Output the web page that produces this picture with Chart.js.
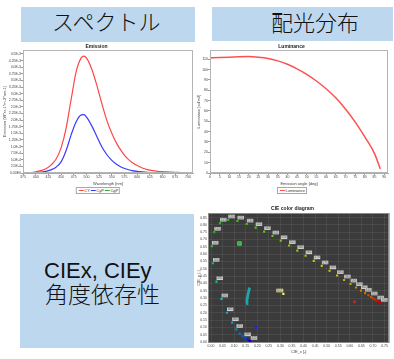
<!DOCTYPE html>
<html>
<head>
<meta charset="utf-8">
<script src="https://cdn.jsdelivr.net/npm/chart.js"></script>
<style>
    body {
        margin: 0;
        width: 394px;
        height: 359px;
        background: #fff;
        position: relative;
        overflow: hidden;
        font-family: 'Liberation Sans', Arial, sans-serif;
    }
    .box { position: absolute; background: #bdd7ee; }
    .jp {
        position: absolute;
        font-family: 'Noto Sans CJK JP', sans-serif;
        font-weight: 300;
        font-size: 22px;
        line-height: 22px;
        color: #111;
        white-space: nowrap;
    }
    .latin {
        position: absolute;
        font-family: 'Liberation Sans', Arial, sans-serif;
        font-size: 22px;
        line-height: 22px;
        color: #111;
        white-space: nowrap;
    }
    canvas { position: absolute; }
    .legend {
        position: absolute;
        transform: translateX(-50%);
        border: 1px solid #a8a8a8;
        background: #fff;
        display: flex;
        align-items: center;
        height: 5px;
        padding: 0 1px;
        font-size: 4px;
        line-height: 5px;
        color: #333;
        white-space: nowrap;
    }
</style>
</head>
<body>

<div class="box" style="left:21px; top:7px; width:174px; height:35px"></div>
<div class="jp" style="left:52px; top:9px">スペクトル</div>

<div class="box" style="left:212px; top:7px; width:181px; height:34px"></div>
<div class="jp" style="left:271px; top:10px">配光分布</div>

<div class="box" style="left:20px; top:214px; width:174px; height:134px"></div>
<div class="latin" style="left:44px; top:260px">CIEx, CIEy</div>
<div class="jp" style="left:45px; top:282px; font-size:23px; line-height:23px">角度依存性</div>

<canvas id="emissionChart" width="197" height="160" style="left:0; top:40px"></canvas>
<div class="legend" id="emissionLegend" style="left:98px; top:187px"></div>

<canvas id="luminanceChart" width="199" height="160" style="left:195px; top:40px"></canvas>
<div class="legend" id="luminanceLegend" style="left:292px; top:187px"></div>

<canvas id="cieChart" width="199" height="159" style="left:195px; top:200px"></canvas>

<script>
    // ---- Emission spectrum ----
    const emissionNm = [390, 400, 410, 420, 430, 440, 450, 460, 470, 480, 490, 495, 500, 510, 520, 530, 540, 550, 560, 570, 580, 590, 600, 610, 620, 630, 640, 650, 660, 670, 680, 690, 700];
    const emissionCY = [0, 0.04e-3, 0.09e-3, 0.16e-3, 0.3e-3, 0.52e-3, 0.95e-3, 1.7e-3, 2.8e-3, 3.85e-3, 4.36e-3, 4.42e-3, 4.35e-3, 3.95e-3, 3.35e-3, 2.65e-3, 2.0e-3, 1.5e-3, 1.1e-3, 0.8e-3, 0.56e-3, 0.4e-3, 0.28e-3, 0.19e-3, 0.13e-3, 0.09e-3, 0.065e-3, 0.05e-3, 0.04e-3, 0.03e-3, 0.02e-3, 0.015e-3, 0.01e-3];
    const emissionCyP = [0, 0.01e-3, 0.03e-3, 0.06e-3, 0.12e-3, 0.22e-3, 0.42e-3, 0.85e-3, 1.45e-3, 1.95e-3, 2.2e-3, 2.21e-3, 2.12e-3, 1.8e-3, 1.4e-3, 1.0e-3, 0.7e-3, 0.48e-3, 0.32e-3, 0.21e-3, 0.14e-3, 0.09e-3, 0.06e-3, 0.04e-3, 0.025e-3, 0.015e-3, 0.01e-3, 0.007e-3, 0.005e-3, 0.003e-3, 0.002e-3, 0.001e-3, 0];
    const emissionXTicks = [375, 400, 425, 450, 475, 500, 525, 550, 575, 600, 625, 650, 675, 700];
    const emissionYTicks = [0, 2.5e-4, 5e-4, 7.5e-4, 1e-3, 1.25e-3, 1.5e-3, 1.75e-3, 2e-3, 2.25e-3, 2.5e-3, 2.75e-3, 3e-3, 3.25e-3, 3.5e-3, 3.75e-3, 4e-3, 4.25e-3, 4.5e-3];
    const emissionYLabels = ['0.00E0', '2.5E-4', '5.0E-4', '7.5E-4', '1.0E-3', '1.25E-3', '1.5E-3', '1.75E-3', '2.0E-3', '2.25E-3', '2.5E-3', '2.75E-3', '3.0E-3', '3.25E-3', '3.5E-3', '3.75E-3', '4.0E-3', '4.25E-3', '4.5E-3'];

    // ---- Luminance vs angle ----
    const lumAngle = [0, 5, 10, 15, 20, 25, 30, 35, 40, 45, 50, 55, 60, 65, 70, 75, 80, 85, 88];
    const lumValue = [111.5, 111.7, 112, 112.4, 112.6, 112, 110.8, 108.5, 105.2, 100.8, 95.5, 89, 81.5, 72.8, 62, 49.5, 35, 19, 4];
    const lumXTicks = [0, 5, 10, 15, 20, 25, 30, 35, 40, 45, 50, 55, 60, 65, 70, 75, 80, 85, 90];
    const lumYTicks = [0, 10, 20, 30, 40, 50, 60, 70, 80, 90, 100, 110];

    // ---- CIE diagram ----
    const locusNm = [380, 400, 420, 430, 440, 450, 455, 460, 465, 470, 475, 480, 485, 490, 495, 500, 505, 510, 515, 520, 525, 530, 535, 540, 545, 550, 555, 560, 565, 570, 575, 580, 585, 590, 595, 600, 605, 610, 615, 620, 625, 630, 635, 640, 645, 650, 660, 670, 680, 700];
    const locusX = [0.1741, 0.1733, 0.1714, 0.1689, 0.1644, 0.1566, 0.1510, 0.1440, 0.1355, 0.1241, 0.1096, 0.0913, 0.0687, 0.0454, 0.0235, 0.0082, 0.0039, 0.0139, 0.0389, 0.0743, 0.1142, 0.1547, 0.1929, 0.2296, 0.2658, 0.3016, 0.3373, 0.3731, 0.4087, 0.4441, 0.4788, 0.5125, 0.5448, 0.5752, 0.6029, 0.6270, 0.6482, 0.6658, 0.6801, 0.6915, 0.7006, 0.7079, 0.7140, 0.7190, 0.7230, 0.7260, 0.7300, 0.7320, 0.7334, 0.7347];
    const locusY = [0.0050, 0.0048, 0.0051, 0.0069, 0.0109, 0.0177, 0.0227, 0.0297, 0.0399, 0.0578, 0.0868, 0.1327, 0.2007, 0.2950, 0.4127, 0.5384, 0.6548, 0.7502, 0.8120, 0.8338, 0.8262, 0.8059, 0.7816, 0.7543, 0.7243, 0.6923, 0.6589, 0.6245, 0.5896, 0.5547, 0.5202, 0.4866, 0.4544, 0.4242, 0.3965, 0.3725, 0.3514, 0.3340, 0.3197, 0.3083, 0.2993, 0.2920, 0.2859, 0.2809, 0.2770, 0.2740, 0.2700, 0.2680, 0.2666, 0.2653];
    const locusLabelNm = [420, 460, 475, 480, 485, 490, 495, 500, 505, 510, 515, 520, 525, 530, 535, 540, 545, 550, 555, 560, 565, 570, 575, 580, 585, 590, 595, 600, 605, 610, 620, 640, 700];
    const angleCieX = [0.152, 0.1555, 0.159, 0.1625, 0.1665];
    const angleCieY = [0.263, 0.290, 0.318, 0.345, 0.372];
    const greenPoint = [0.123, 0.673];
    const bluePoint = [0.195, 0.099];
    const redPoint = [0.620, 0.2745];
    const whitePoint = [0.3127, 0.329];
    const cieXTicks = [0, 0.05, 0.1, 0.15, 0.2, 0.25, 0.3, 0.35, 0.4, 0.45, 0.5, 0.55, 0.6, 0.65, 0.7, 0.75];
    const cieYTicks = [0, 0.05, 0.1, 0.15, 0.2, 0.25, 0.3, 0.35, 0.4, 0.45, 0.5, 0.55, 0.6, 0.65, 0.7, 0.75, 0.8, 0.85];


    Chart.defaults.font.family = "'Liberation Sans', Arial, sans-serif";
    Chart.defaults.color = '#444';

    const fixedTicks = values => axis => { axis.ticks = values.map(v => ({value: v})); };

    // wavelength -> marker colour (styling only)
    const nmColor = nm => {
        let r = 0, g = 0, b = 0;
        if (nm < 440) { r = (440 - nm) / 60; b = 1; }
        else if (nm < 490) { g = (nm - 440) / 50; b = 1; }
        else if (nm < 510) { g = 1; b = (510 - nm) / 20; }
        else if (nm < 580) { r = (nm - 510) / 70; g = 1; }
        else if (nm < 645) { r = 1; g = (645 - nm) / 65; }
        else { r = 1; }
        const k = 0.8;
        return `rgb(${Math.round(r * 255 * k)},${Math.round(g * 255 * k)},${Math.round(b * 255 * k)})`;
    };

    const htmlLegendPlugin = {
        id: 'htmlLegend',
        afterUpdate(chart, args, options) {
            const box = document.getElementById(options.containerID);
            while (box.firstChild) {
                box.firstChild.remove();
            }
            const items = chart.options.plugins.legend.labels.generateLabels(chart);
            items.forEach(item => {
                const line = document.createElement('span');
                line.style.display = 'inline-block';
                line.style.width = '5px';
                line.style.height = '1px';
                line.style.background = item.strokeStyle;
                line.style.marginLeft = '1px';

                const text = document.createElement('span');
                text.style.marginLeft = '0.5px';
                text.appendChild(document.createTextNode(item.text));

                box.appendChild(line);
                box.appendChild(text);
            });
        }
    };

    const framePlugin = {
        id: 'frame',
        beforeDraw(chart, args, opts) {
            if (!opts.fill) return;
            const a = chart.chartArea;
            chart.ctx.save();
            chart.ctx.fillStyle = opts.fill;
            chart.ctx.fillRect(a.left, a.top, a.width, a.height);
            chart.ctx.restore();
        },
        afterDraw(chart, args, opts) {
            const a = chart.chartArea;
            const ctx = chart.ctx;
            ctx.save();
            ctx.strokeStyle = opts.stroke || '#aaa';
            ctx.lineWidth = 1;
            ctx.strokeRect(Math.round(a.left) + 0.5, Math.round(a.top) + 0.5, Math.round(a.width) - 1, Math.round(a.height) - 1);
            ctx.restore();
        }
    };

    const pointLabelPlugin = {
        id: 'pointLabels',
        afterDatasetsDraw(chart) {
            const ctx = chart.ctx;
            ctx.save();
            ctx.font = "3px 'Liberation Sans', Arial, sans-serif";
            ctx.textAlign = 'center';
            ctx.textBaseline = 'middle';
            chart.data.datasets.forEach((ds, di) => {
                if (!ds.pointLabels) return;
                const meta = chart.getDatasetMeta(di);
                meta.data.forEach((el, i) => {
                    const text = ds.pointLabels[i];
                    if (!text) return;
                    const dx = ds.labelDx !== undefined ? ds.labelDx : 3.3;
                    const cx = el.x + dx;
                    const cy = el.y - 3.4;
                    const w = ctx.measureText(text).width + 1.4;
                    ctx.fillStyle = ds.labelBg || '#cfcfcf';
                    ctx.fillRect(cx - w / 2, cy - 1.8, w, 3.6);
                    ctx.fillStyle = '#555';
                    ctx.fillText(text, cx, cy + 0.2);
                });
            });
            ctx.restore();
        }
    };

    const tickGrid = { drawOnChartArea: false, tickLength: 2, color: '#999' };

    // Emission
    new Chart(document.getElementById('emissionChart'), {
        type: 'line',
        data: {
            datasets: [
                { label: 'CY', data: emissionNm.map((x, i) => ({x: x, y: emissionCY[i]})), borderColor: '#ff4646', borderWidth: 1.2, pointRadius: 0, cubicInterpolationMode: 'monotone' },
                { label: 'CyP', data: emissionNm.map((x, i) => ({x: x, y: emissionCyP[i]})), borderColor: '#3a3aff', borderWidth: 1.2, pointRadius: 0, cubicInterpolationMode: 'monotone' },
                { label: 'CgP', data: [], borderColor: '#33aa33', borderWidth: 1.2, pointRadius: 0 }
            ]
        },
        options: {
            responsive: false,
            animation: false,
            events: [],
            layout: { padding: { top: 0, right: 4, bottom: 11, left: 0 } },
            scales: {
                x: {
                    type: 'linear', min: 375, max: 710,
                    afterBuildTicks: fixedTicks(emissionXTicks),
                    afterFit: s => { s.height = 16; s.paddingLeft = 0; s.paddingRight = 0; },
                    grid: tickGrid, border: { color: '#aaa' },
                    ticks: { font: { size: 3.5 }, padding: 0, maxRotation: 0, autoSkip: false },
                    title: { display: true, text: 'Wavelength [nm]', font: { size: 4 }, padding: { top: 0, bottom: 3 } }
                },
                y: {
                    type: 'linear', min: 0, max: 4.65e-3,
                    afterBuildTicks: fixedTicks(emissionYTicks),
                    afterFit: s => { s.width = 23; s.paddingTop = 0; s.paddingBottom = 0; },
                    grid: tickGrid, border: { color: '#aaa' },
                    ticks: { font: { size: 3.5 }, padding: 0, autoSkip: false, callback: (v, i) => emissionYLabels[i] },
                    title: { display: true, text: 'Emission [W*sr-1*m-2*nm-1]', font: { size: 4 }, padding: { top: 2.6, bottom: 0 } }
                }
            },
            plugins: {
                title: { display: true, text: 'Emission', color: '#222', font: { size: 5, weight: 'bold' }, padding: { top: 4, bottom: 0 } },
                legend: { display: false },
                tooltip: { enabled: false },
                htmlLegend: { containerID: 'emissionLegend' },
                frame: { stroke: '#b4b4b4' }
            }
        },
        plugins: [htmlLegendPlugin, framePlugin]
    });

    // Luminance
    new Chart(document.getElementById('luminanceChart'), {
        type: 'line',
        data: {
            datasets: [
                { label: 'Luminance', data: lumAngle.map((x, i) => ({x: x, y: lumValue[i]})), borderColor: '#ff5050', borderWidth: 1.5, pointRadius: 0, cubicInterpolationMode: 'monotone' }
            ]
        },
        options: {
            responsive: false,
            animation: false,
            events: [],
            layout: { padding: { top: 0, right: 6, bottom: 11, left: 0 } },
            scales: {
                x: {
                    type: 'linear', min: 0, max: 92,
                    afterBuildTicks: fixedTicks(lumXTicks),
                    afterFit: s => { s.height = 16; s.paddingLeft = 0; s.paddingRight = 0; },
                    grid: tickGrid, border: { color: '#aaa' },
                    ticks: { font: { size: 3.5 }, padding: 0, maxRotation: 0, autoSkip: false },
                    title: { display: true, text: 'Emission angle [deg]', font: { size: 4 }, padding: { top: 0, bottom: 3 } }
                },
                y: {
                    type: 'linear', min: 0, max: 119,
                    afterBuildTicks: fixedTicks(lumYTicks),
                    afterFit: s => { s.width = 15; s.paddingTop = 0; s.paddingBottom = 0; },
                    grid: tickGrid, border: { color: '#aaa' },
                    ticks: { font: { size: 3.5 }, padding: 0, autoSkip: false },
                    title: { display: true, text: 'Luminance [cd/m2]', font: { size: 4 }, padding: { top: 1.6, bottom: 0 } }
                }
            },
            plugins: {
                title: { display: true, text: 'Luminance', color: '#222', font: { size: 5, weight: 'bold' }, padding: { top: 4, bottom: 0 } },
                legend: { display: false },
                tooltip: { enabled: false },
                htmlLegend: { containerID: 'luminanceLegend' },
                frame: { stroke: '#b4b4b4' }
            }
        },
        plugins: [htmlLegendPlugin, framePlugin]
    });

    // CIE color diagram
    const single = (p, color, r, border) => ({
        data: [{x: p[0], y: p[1]}], pointStyle: 'rect', pointRadius: r,
        backgroundColor: color, borderColor: border || color, borderWidth: border ? 0.6 : 0
    });

    new Chart(document.getElementById('cieChart'), {
        type: 'scatter',
        data: {
            datasets: [
                {
                    data: locusNm.map((nm, i) => ({x: locusX[i], y: locusY[i]})),
                    pointStyle: 'rect', pointRadius: 1.5, borderWidth: 0,
                    backgroundColor: locusNm.map(nmColor),
                    pointLabels: locusNm.map(nm => locusLabelNm.includes(nm) ? String(nm) : '')
                },
                {
                    data: angleCieX.map((x, i) => ({x: x, y: angleCieY[i]})),
                    showLine: true, borderColor: '#1fa6a6', borderWidth: 2.8, pointRadius: 0
                },
                single(greenPoint, '#2fb52f', 2.6, '#86e086'),
                single(bluePoint, '#2828cc', 2.2),
                single(redPoint, '#cc2222', 2),
                Object.assign(single(whitePoint, '#f2f266', 1.6), { pointLabels: ['D65'], labelBg: '#dede9e', labelDx: -3.6 })
            ]
        },
        options: {
            responsive: false,
            animation: false,
            events: [],
            layout: { padding: { top: 0, right: 4, bottom: 3, left: 0 } },
            scales: {
                x: {
                    type: 'linear', min: -0.013, max: 0.771,
                    afterBuildTicks: fixedTicks(cieXTicks),
                    afterFit: s => { s.height = 13; s.paddingLeft = 0; s.paddingRight = 0; },
                    grid: { color: 'rgba(255,255,255,0.07)', drawTicks: false },
                    border: { display: false },
                    ticks: { font: { size: 3.5 }, padding: 1.2, maxRotation: 0, autoSkip: false, callback: v => v.toFixed(2) },
                    title: { display: true, text: 'CIE_x [-]', font: { size: 4 }, padding: { top: 0, bottom: 1.6 } }
                },
                y: {
                    type: 'linear', min: -0.006, max: 0.881,
                    afterBuildTicks: fixedTicks(cieYTicks),
                    afterFit: s => { s.width = 13; s.paddingTop = 0; s.paddingBottom = 0; },
                    grid: { color: 'rgba(255,255,255,0.07)', drawTicks: false },
                    border: { display: false },
                    ticks: { font: { size: 3.5 }, padding: 1, autoSkip: false, callback: v => v.toFixed(2) },
                    title: { display: true, text: 'CIE_y [-]', font: { size: 4 }, padding: { top: 1.6, bottom: 0 } }
                }
            },
            plugins: {
                title: { display: true, text: 'CIE color diagram', color: '#222', font: { size: 5, weight: 'bold' }, padding: { top: 6, bottom: 1 } },
                legend: { display: false },
                tooltip: { enabled: false },
                frame: { fill: '#3b3b3b', stroke: '#8a8a8a' }
            }
        },
        plugins: [framePlugin, pointLabelPlugin]
    });
</script>
</body>
</html>
